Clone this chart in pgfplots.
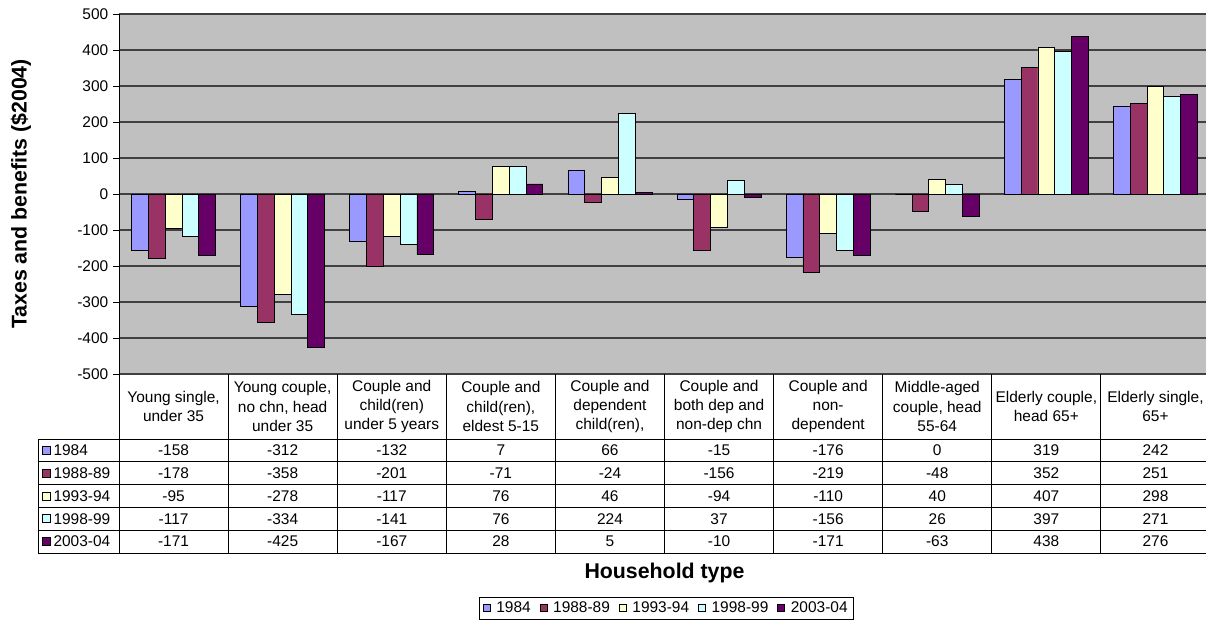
\documentclass[border=0pt]{standalone}
\usepackage{pgfplots}
\pgfplotsset{compat=1.18}
\usepackage{pgfplotstable}
\usepackage{fontspec}
\setmainfont{Liberation Sans}

\definecolor{c1}{HTML}{9999FF}
\definecolor{c2}{HTML}{993366}
\definecolor{c3}{HTML}{FFFFCC}
\definecolor{c4}{HTML}{CCFFFF}
\definecolor{c5}{HTML}{660066}
\definecolor{plotgray}{HTML}{C0C0C0}

% household type index, then one column per survey year
\pgfplotstableread{
x a b c d e
0 -158 -178 -95 -117 -171
1 -312 -358 -278 -334 -425
2 -132 -201 -117 -141 -167
3 7 -71 76 76 28
4 66 -24 46 224 5
5 -15 -156 -94 37 -10
6 -176 -219 -110 -156 -171
7 0 -48 40 26 -63
8 319 352 407 397 438
9 242 251 298 271 276
}\datatable

\newcommand{\bodyfont}{\fontsize{11.6}{14.4}\selectfont}
\newcommand{\titlefont}{\fontsize{16}{19}\selectfont\bfseries}

\begin{document}
\begin{tikzpicture}
\path[use as bounding box] (0,0) rectangle (904.5pt,-466.5pt);

\begin{axis}[
  at={(89.25pt,-10.5pt)}, anchor=north west,
  scale only axis, width=818.25pt, height=270pt,
  ybar=0pt, bar width=12.6pt,
  xmin=-0.5, xmax=9.5, ymin=-500, ymax=500,
  ytick={-500,-400,...,500}, xtick=\empty,
  separate axis lines,
  axis x line=none, axis y line*=left,
  axis line style={-, black, line width=0.75pt},
  tick align=outside, ytick pos=left,
  major tick length=4.5pt,
  tick style={black, line width=0.75pt},
  ymajorgrids,
  grid style={black!75, line width=0.8pt},
  axis background/.style={fill=plotgray},
  yticklabel={\pgfmathparse{int(\tick)}\pgfmathresult},
  yticklabel style={font=\bodyfont, anchor=east},
  ylabel={Taxes and benefits (\$2004)},
  every axis y label/.style={at={(axis description cs:-0.0898,0.5)}, rotate=90, anchor=center, font=\titlefont},
  legend style={at={(axis description cs:0.5018,-0.65)}, anchor=center,
    draw=black, line width=0.6pt, font=\bodyfont, inner xsep=2.5pt, inner ysep=1.5pt,
    /tikz/every even column/.append style={column sep=4.6pt}},
  legend columns=5,
  legend image code/.code={\draw[#1, draw=black, line width=0.5pt] (0pt,-2.7pt) rectangle (5.4pt,2.7pt);
    \path[draw=none, fill=none] (0pt,0pt) (8pt,0pt);},
  every axis plot/.append style={draw=black, line width=0.6pt},
]
\addplot[fill=c1] table[x=x, y=a] {\datatable};
\addlegendentry{1984}
\addplot[fill=c2] table[x=x, y=b] {\datatable};
\addlegendentry{1988-89}
\addplot[fill=c3] table[x=x, y=c] {\datatable};
\addlegendentry{1993-94}
\addplot[fill=c4] table[x=x, y=d] {\datatable};
\addlegendentry{1998-99}
\addplot[fill=c5] table[x=x, y=e] {\datatable};
\addlegendentry{2003-04}
\end{axis}

% data table below the plot area, laid out in pixel units
\begin{scope}[x=0.75pt, y=-0.75pt, line width=0.75pt]
  % vertical rules at the category boundaries
  \foreach \k in {0,...,10}
    \draw ({119+109.1*\k},374) -- ({119+109.1*\k},553);
  \draw (38,439) -- (38,553);
  % horizontal rules
  \foreach \yy in {439,461.8,484.6,507.4,530.2,553}
    \draw (38,\yy) -- (1210,\yy);
  % column headings
  \foreach \lab [count=\i from 0] in {
      {Young single,\\under 35},
      {Young couple,\\no chn, head\\under 35},
      {Couple and\\child(ren)\\under 5 years},
      {Couple and\\child(ren),\\eldest 5-15},
      {Couple and\\dependent\\child(ren),},
      {Couple and\\both dep and\\non-dep chn},
      {Couple and\\non-\\dependent},
      {Middle-aged\\couple, head\\55-64},
      {Elderly couple,\\head 65+},
      {Elderly single,\\65+}}
    \node[align=center, font=\bodyfont, inner sep=0pt] at ({119+109.1*(\i+0.5)},406.5) {\lab};
  % series keys
  \foreach \col/\name [count=\j from 0] in {c1/1984,c2/1988-89,c3/1993-94,c4/1998-99,c5/2003-04} {
    \draw[fill=\col, line width=0.5pt] (42,{450.4+22.8*\j-4}) rectangle (50,{450.4+22.8*\j+4});
    \node[anchor=west, font=\bodyfont, inner sep=0pt] at (53,{450.4+22.8*\j}) {\name};
  }
  % cell values, taken from the same table as the bars
  \foreach \r in {0,...,9} {
    \foreach \c [count=\j from 0] in {a,b,c,d,e} {
      \pgfplotstablegetelem{\r}{\c}\of\datatable
      \node[font=\bodyfont, inner sep=0pt] at ({119+109.1*(\r+0.5)},{450.4+22.8*\j}) {\pgfplotsretval};
    }
  }
  % category axis title
  \node[font=\titlefont] at (664.5,573) {Household type};
\end{scope}
\end{tikzpicture}
\end{document}
